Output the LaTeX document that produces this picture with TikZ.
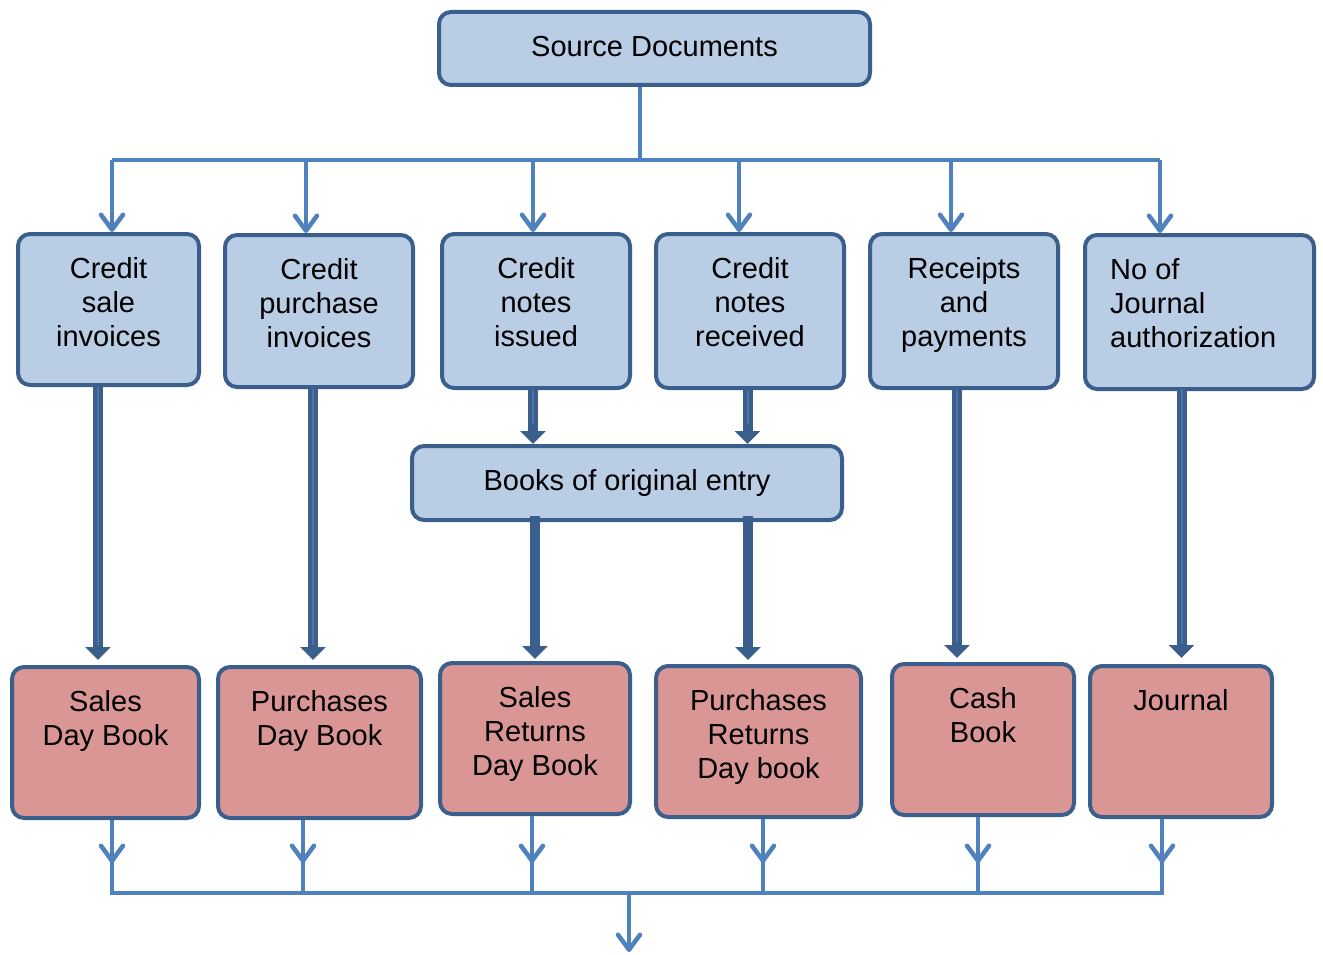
\documentclass[tikz,border=0pt]{standalone}
\usepackage{fontspec}
\setmainfont{Liberation Sans}
\usetikzlibrary{arrows.meta}
\definecolor{lb}{HTML}{B9CDE5}
\definecolor{dk}{HTML}{3A5F8C}
\definecolor{rd}{HTML}{D99694}
\definecolor{cn}{HTML}{4F81BD}
\definecolor{fatc}{HTML}{3A5F8C}
\definecolor{fatmid}{HTML}{4A74AA}
\newcommand{\fs}{\fontsize{29}{34}\selectfont}
\newcommand{\fl}{\rule{0pt}{22pt}}
\begin{document}
\begin{tikzpicture}[x=1pt,y=-1pt,
  box/.style={draw=dk, line width=4pt, rounded corners=12pt, inner sep=0pt},
  bluebox/.style={box, fill=lb},
  redbox/.style={box, fill=rd},
  lbl/.style={anchor=north, yshift=-24pt, align=center, inner sep=0pt, font=\fs},
  lbll/.style={anchor=north west, yshift=-24pt, xshift=27pt, align=left, inner sep=0pt, font=\fs},
  conn/.style={draw=cn, line width=4.5pt},
  arr/.style={-{Straight Barb[length=15pt,width=22pt,round]}},
  fat/.style={draw=fatc, line width=10pt, -{Triangle[width=25pt,length=13pt]}},
  fatl/.style={fat, postaction={draw=fatmid, line width=2pt, -, shorten >=20pt}}
]
\useasboundingbox (0,0) rectangle (1323,955);

% boxes
\node[bluebox, minimum width=431pt, minimum height=73pt, label={[lbl]north:\fl Source Documents}] (src) at (654.5,48.5) {};

\node[bluebox, minimum width=181pt, minimum height=151pt, label={[lbl]north:\fl Credit\\sale\\invoices}] (t1) at (108.5,309.5) {};
\node[bluebox, minimum width=188pt, minimum height=152pt, label={[lbl]north:\fl Credit\\purchase\\invoices}] (t2) at (319,311) {};
\node[bluebox, minimum width=188pt, minimum height=154pt, label={[lbl]north:\fl Credit\\notes\\issued}] (t3) at (536,311) {};
\node[bluebox, minimum width=188pt, minimum height=154pt, label={[lbl]north:\fl Credit\\notes\\received}] (t4) at (750,311) {};
\node[bluebox, minimum width=188pt, minimum height=154pt, label={[lbl]north:\fl Receipts\\and\\payments}] (t5) at (964,311) {};
\node[bluebox, minimum width=229pt, minimum height=154pt, label={[lbll]north west:\fl No of\\Journal\\authorization}] (t6) at (1199.5,312) {};

\node[bluebox, minimum width=430pt, minimum height=74pt, label={[lbl]north:\fl Books of original entry}] (books) at (627,483) {};

\node[redbox, minimum width=187pt, minimum height=151pt, label={[lbl]north:\fl Sales\\Day Book}] (b1) at (105.5,742.5) {};
\node[redbox, minimum width=203pt, minimum height=151pt, label={[lbl]north:\fl Purchases\\Day Book}] (b2) at (319.5,742.5) {};
\node[redbox, minimum width=190pt, minimum height=151pt, label={[lbl]north:\fl Sales\\Returns\\Day Book}] (b3) at (535,738.5) {};
\node[redbox, minimum width=205pt, minimum height=151pt, label={[lbl]north:\fl Purchases\\Returns\\Day book}] (b4) at (758.5,741.5) {};
\node[redbox, minimum width=182pt, minimum height=151pt, label={[lbl]north:\fl Cash\\Book}] (b5) at (983,739.5) {};
\node[redbox, minimum width=182pt, minimum height=151pt, label={[lbl]north:\fl Journal}] (b6) at (1181,741.5) {};

% top distribution
\coordinate (top) at (640,160);
\coordinate (k1) at (112,160);
\coordinate (k2) at (306,160);
\coordinate (k3) at (533,160);
\coordinate (k4) at (739,160);
\coordinate (k5) at (951,160);
\coordinate (k6) at (1160,160);
\draw[conn] (src.south -| top) -- (top);
\draw[conn] (k1) -- (k6);
\draw[conn,arr] (k1) -- (k1 |- t1.north);
\draw[conn,arr] (k2) -- (k2 |- t2.north);
\draw[conn,arr] (k3) -- (k3 |- t3.north);
\draw[conn,arr] (k4) -- (k4 |- t4.north);
\draw[conn,arr] (k5) -- (k5 |- t5.north);
\draw[conn,arr] (k6) -- (k6 |- t6.north);

% thick arrows
\draw[fatl, shorten >=5pt] (t1.south -| 98,0) -- (b1.north -| 98,0);
\draw[fatl, shorten >=5pt] (t2.south -| 313,0) -- (b2.north -| 313,0);
\draw[fatl] (t3.south -| 533,0) -- (books.north -| 533,0);
\draw[fatl] (t4.south -| 747.5,0) -- (books.north -| 747.5,0);
\draw[fat, shorten <=-6pt, shorten >=2pt] (books.south -| 535,0) -- (b3.north -| 535,0);
\draw[fat, shorten <=-6pt, shorten >=4pt] (books.south -| 748,0) -- (b4.north -| 748,0);
\draw[fatl, shorten >=4pt] (t5.south -| 957,0) -- (b5.north -| 957,0);
\draw[fatl, shorten <=-2pt, shorten >=6pt] (t6.south -| 1181.5,0) -- (b6.north -| 1181.5,0);

% bottom collection
\coordinate (m1) at (112,893);
\coordinate (m2) at (303,893);
\coordinate (m3) at (532,893);
\coordinate (m4) at (763,893);
\coordinate (m5) at (978,893);
\coordinate (m6) at (1162,893);
\coordinate (out) at (629,952);
\foreach \b/\m in {b1/m1,b2/m2,b3/m3,b4/m4,b5/m5,b6/m6}{
  \draw[conn] (\b.south -| \m) -- (\m);
  \draw[conn,arr] (\b.south -| \m) -- (\m |- 0,863);
}
\draw[conn, line cap=rect] (m1) -- (m6);
\draw[conn,arr] (out |- m1) -- (out);
\end{tikzpicture}
\end{document}
